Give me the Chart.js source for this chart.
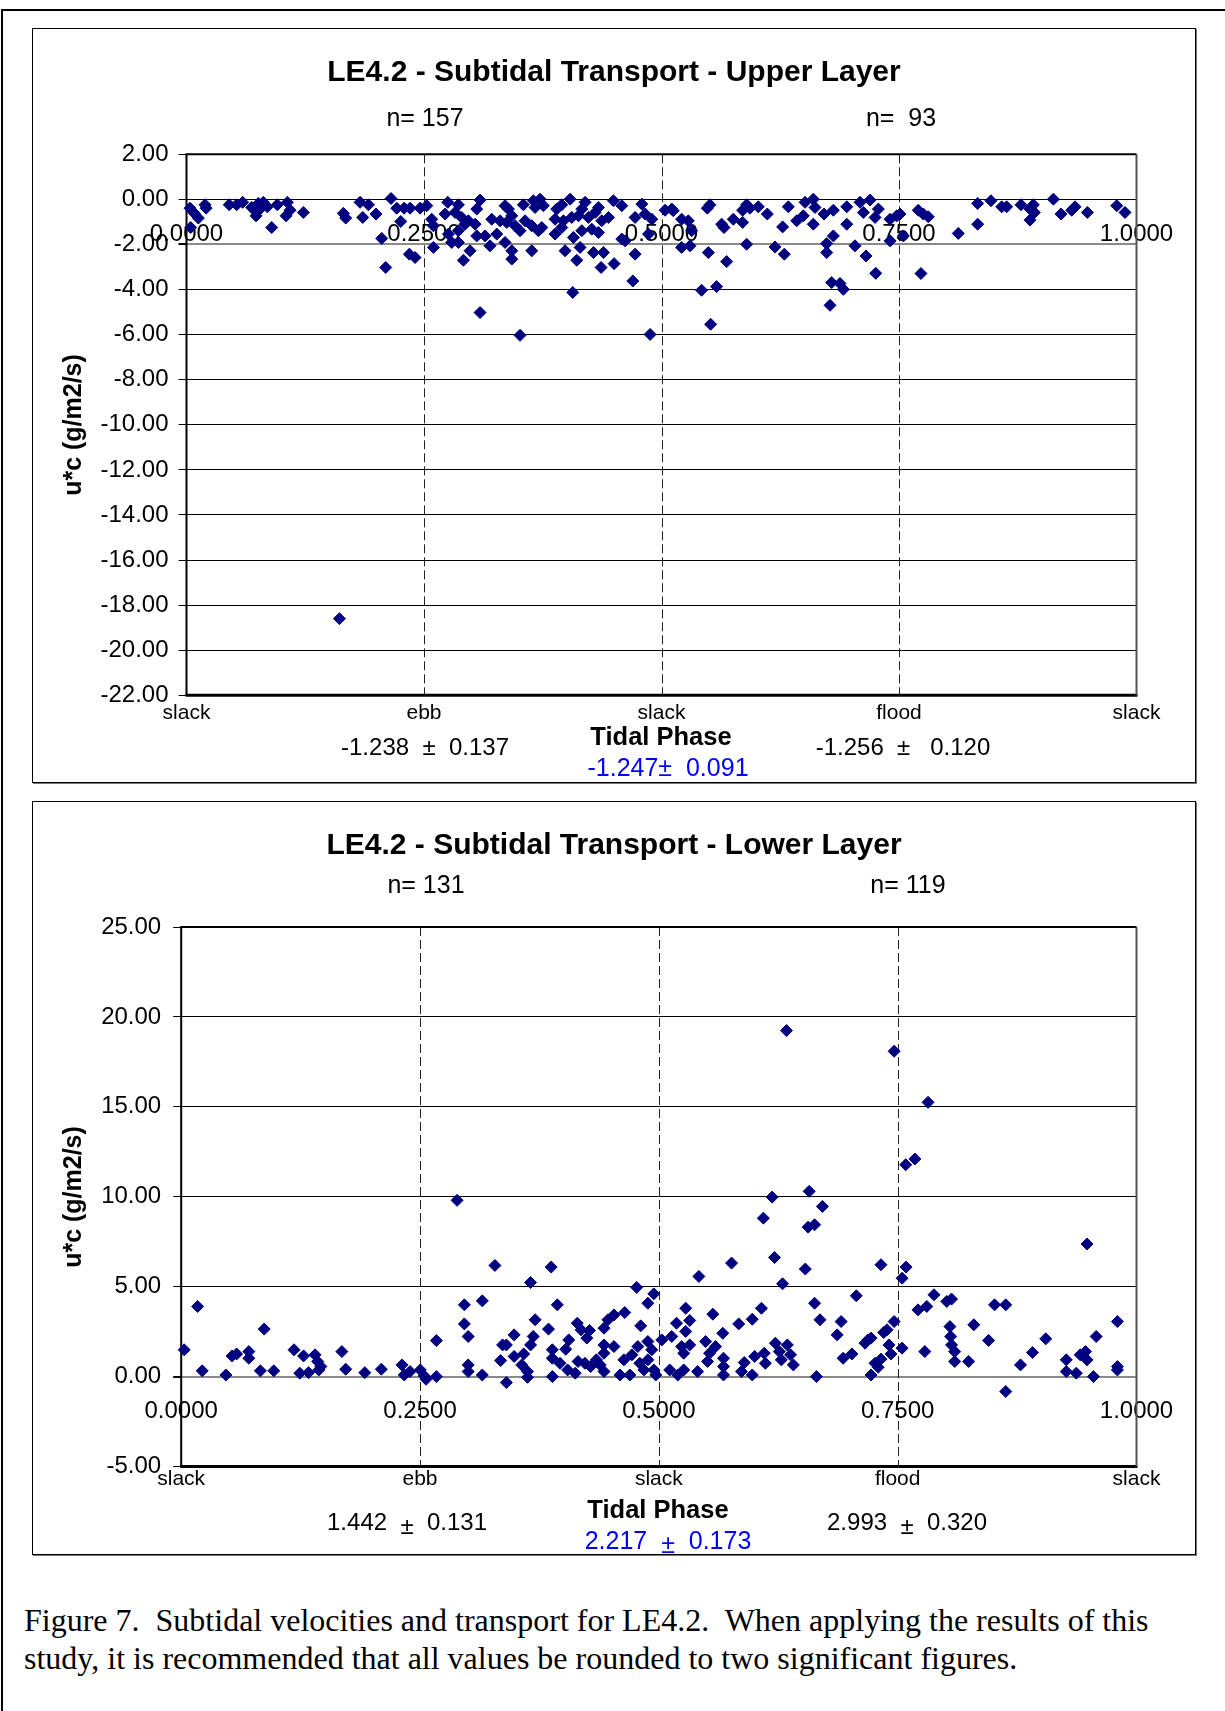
<!DOCTYPE html>
<html>
<head>
<meta charset="utf-8">
<script src="https://cdn.jsdelivr.net/npm/chart.js@4.4.1/dist/chart.umd.min.js"></script>
<style>
  html, body { margin: 0; padding: 0; background: #fff; }
  body { width: 1225px; height: 1711px; position: relative; overflow: hidden; }
  #frame { position: absolute; left: 1px; top: 9px; width: 1300px; height: 1800px;
           border-top: 2px solid #000; border-left: 2px solid #000; }
  .box { position: absolute; left: 32px; width: 1162px; border: 1px solid #000;
         box-shadow: 1px 1px 0 #777; background: #fff; }
  #boxU { top: 28px; height: 753px; }
  #boxL { top: 801px; height: 752px; }
  .box canvas { display: block; }
  #caption { position: absolute; left: 24px; top: 1601px; margin: 0;
             font-family: "Liberation Serif", "Times New Roman", serif;
             font-size: 32px; line-height: 38px; white-space: pre; color: #000; }
</style>
</head>
<body>
<div id="frame"></div>
<div class="box" id="boxU"><canvas id="upper" width="1162" height="753"></canvas></div>
<div class="box" id="boxL"><canvas id="lower" width="1162" height="752"></canvas></div>
<p id="caption">Figure 7.  Subtidal velocities and transport for LE4.2.  When applying the results of this
study, it is recommended that all values be rounded to two significant figures.</p>

<script>
// ---- tidal phase axis ----
const phaseTicks   = [0, 0.25, 0.5, 0.75, 1];
const phaseNames   = ['slack', 'ebb', 'slack', 'flood', 'slack'];
const phaseNumbers = ['0.0000', '0.2500', '0.5000', '0.7500', '1.0000'];
const quarterLines = [0.25, 0.5, 0.75];
const yAxisTitle   = 'u*c (g/m2/s)';

// ---- upper layer: tidal phase vs. transport ----
const phaseUpper = [
  0.0037,0.0083,0.0125,0.0044,0.0195,0.0206,0.045,0.0528,0.0591,0.0686,
  0.0732,0.0774,0.0809,0.0851,0.0756,0.0897,0.0956,0.1062,0.1048,0.109,
  0.123,0.161,0.1651,0.1676,0.1827,0.1855,0.1915,0.1995,0.2055,0.2097,
  0.2153,0.2213,0.2255,0.229,0.2353,0.2346,0.2406,0.2459,
  0.2529,0.275,0.2862,0.309,0.3055,0.3353,0.3389,0.3546,0.3652,0.3722,
  0.3757,0.3669,0.3897,0.4038,0.395,0.4196,0.4161,0.4336,0.4494,0.4582,
  0.4793,0.5038,0.5108,
  0.2581,0.2722,0.2827,0.2897,0.2967,0.3038,0.3213,0.3301,0.3424,0.3371,
  0.3564,0.3634,0.374,0.388,0.3968,0.4055,0.4126,0.4231,0.4301,0.4371,
  0.4442,0.4722,0.4828,0.4898,
  0.2599,0.2757,0.2862,0.2932,0.3055,0.3143,0.3266,0.3459,0.3511,0.3704,
  0.388,0.395,0.4073,0.4161,0.4266,0.4336,0.4582,0.4863,
  0.2599,0.2792,0.2862,0.3195,0.3353,0.3424,0.3634,0.3985,0.4143,0.4284,
  0.4389,0.4617,0.4722,
  0.2915,0.2985,0.3424,0.4108,0.4364,0.4501,0.4698,0.4066,0.309,0.3511,0.488,
  0.5124,0.5482,0.551,0.5756,0.5854,0.5896,0.5931,0.6019,0.6114,0.6335,
  0.6423,0.6493,0.6511,0.6598,0.6616,0.6711,0.6809,0.695,0.709,0.7195,
  0.7125,0.7283,0.7248,0.7406,0.7476,0.7511,
  0.5212,0.5282,0.5317,0.53,0.5212,0.5633,0.5658,0.5854,0.5896,0.6275,
  0.6598,0.6739,0.6809,0.695,0.7406,0.7546,0.5493,0.5686,0.6195,0.6293,
  0.6739,0.7037,0.7153,0.7255,0.5422,0.558,0.6791,0.6879,0.6914,0.6774,
  0.5517,
  0.7703,0.7756,0.7808,0.8124,0.8328,0.8328,0.8468,0.8581,0.8633,0.8784,
  0.8879,0.8914,0.8925,0.8879,0.9125,0.9205,0.9318,0.9353,0.9483,0.9792,
  0.9879,0.7731
];
const ucUpper = [
  -0.39,-0.62,-0.83,-1.25,-0.24,-0.39,-0.24,-0.24,-0.13,-0.36,
  -0.73,-0.43,-0.13,-0.33,-0.18,-1.25,-0.24,-0.13,-0.73,-0.48,
  -0.58,-18.6,-0.62,-0.83,-0.13,-0.8,-0.24,-0.65,-1.73,-3.02,
  0.04,-0.39,-0.98,-0.39,-0.39,-2.43,-2.58,-0.39,
  -0.28,-0.13,-0.24,-0.03,-0.43,-0.28,-0.43,-0.24,-0.06,0.01,
  -0.28,-0.36,-0.43,0.01,-0.24,-0.13,-0.43,-0.36,-0.06,-0.28,
  -0.21,-0.48,-0.43,
  -0.88,-0.65,-0.58,-0.8,-0.95,-1.1,-0.88,-0.95,-0.73,-1.02,
  -0.95,-1.17,-1.25,-0.88,-0.95,-0.8,-0.73,-0.8,-0.58,-0.95,
  -0.8,-0.8,-0.65,-0.88,
  -1.17,-1.54,-1.39,-1.1,-1.62,-1.62,-1.54,-1.17,-1.39,-1.39,
  -1.54,-1.25,-1.69,-1.39,-1.32,-1.47,-1.76,-1.54,
  -2.13,-1.91,-1.91,-2.06,-1.91,-2.28,-2.28,-2.28,-2.13,-2.36,
  -2.36,-1.84,-2.43,
  -2.7,-2.28,-2.65,-2.7,-3.02,-2.85,-3.62,-4.13,-5.02,-6.03,-5.99,
  -0.5,-0.39,-0.24,-0.88,-0.48,-0.24,-0.39,-0.33,-0.65,-0.33,
  -0.95,-0.73,-0.13,0.01,-0.36,-0.65,-0.48,-0.33,-0.13,-0.03,
  -0.58,-0.43,-0.8,-0.88,-0.73,-0.65,
  -0.88,-0.95,-1.39,-2.06,-2.13,-1.1,-1.25,-1.02,-1.99,-1.22,
  -1.1,-1.96,-1.62,-1.1,-1.84,-1.62,-2.36,-2.76,-2.11,-2.43,
  -2.36,-2.06,-2.51,-3.28,-4.03,-3.87,-3.69,-3.73,-3.99,-4.7,
  -5.54,
  -0.48,-0.65,-0.77,-1.51,-0.18,-1.1,-0.06,-0.33,-0.33,-0.24,
  -0.43,-0.24,-0.58,-0.92,0.01,-0.65,-0.48,-0.33,-0.58,-0.28,
  -0.58,-3.29
];

// ---- lower layer: tidal phase vs. transport ----
const phaseLower = [
  0.0031,0.0172,0.022,0.0468,0.0532,0.058,0.0708,0.0708,0.0829,0.0869,
  0.0969,0.1181,0.1241,0.1281,0.1333,0.1401,0.1429,0.1462,0.1441,0.1682,
  0.1722,0.1922,0.2095,0.2311,0.2335,0.2395,0.2503,0.2543,0.2563,0.2671,
  0.2671,0.2888,0.2964,0.2964,0.3004,0.3004,0.3004,0.3152,0.3152,0.3284,
  0.3344,0.3364,0.3404,0.3404,0.3485,0.3485,0.3565,0.3585,0.3625,0.3625,
  0.3657,0.3657,0.3685,0.3705,0.3845,0.3873,0.3885,0.3885,0.3885,0.3937,
  0.3965,0.4025,0.4057,0.4045,0.4125,0.4146,0.4186,0.4246,0.4274,0.4154,
  0.4226,0.4286,0.4346,0.4386,0.4426,
  0.4426,0.4467,0.453,0.4643,0.4768,0.481,0.4885,0.4947,0.4426,0.453,
  0.4426,0.4593,0.4634,0.4697,0.4718,0.478,0.4801,0.4843,0.4885,0.4926,
  0.4947,0.4968,0.4885,0.5031,0.5135,0.5114,0.5185,0.5198,0.5239,0.526,
  0.526,0.5281,0.5323,0.5281,0.5323,0.5406,0.5419,0.549,0.551,0.5531,
  0.5565,0.5594,0.5669,0.5677,0.5677,0.5677,0.5761,0.5836,0.5865,0.5894,
  0.5978,0.5978,0.6003,0.6074,0.6094,0.6103,0.6115,0.6186,0.6211,0.622,
  0.6261,0.6295,0.6282,0.6345,0.6378,0.6408,0.6533,0.6562,0.6574,0.663,
  0.6712,0.663,0.6649,0.6687,0.6866,0.6908,0.6929,0.7021,0.7067,0.7158,
  0.7188,0.7221,0.7221,0.7263,0.7296,0.7325,0.7325,0.7354,0.7388,0.7409,
  0.743,0.7463,0.7546,0.7546,0.7588,0.7713,0.7784,0.7805,0.788,0.8014,
  0.8064,0.8047,0.8055,0.8064,0.8097,0.8097,0.8243,0.8297,0.8452,0.8514,
  0.8631,0.8631,0.8786,0.8911,0.905,0.9265,0.9265,0.937,0.9411,0.9466,
  0.9482,0.9482,0.9549,0.9578,0.98,0.98,0.98,
  0.6336,0.7463,0.7818,0.7584,0.768
];
const ucLower = [
  1.49,3.9,0.32,0.09,1.15,1.26,1.39,1.02,0.32,2.64,
  0.32,1.49,0.19,1.15,0.22,1.21,0.84,0.56,0.37,1.39,
  0.41,0.22,0.41,0.65,0.09,0.28,0.37,0.04,-0.15,0.0,
  2.0,9.8,3.99,2.93,2.23,0.65,0.28,4.21,0.09,6.18,
  0.89,1.76,1.76,-0.33,2.32,1.12,0.65,1.26,0.28,-0.04,
  5.23,1.76,2.23,3.16,2.64,6.09,1.49,0.0,1.02,3.99,
  0.74,1.52,2.04,0.37,0.19,2.97,2.6,2.14,2.56,0.84,
  0.74,0.56,0.93,0.65,1.3,
  2.69,3.16,3.43,3.56,4.96,2.82,4.08,4.6,1.76,1.67,
  0.28,0.09,0.93,0.09,1.21,1.67,0.74,0.37,1.95,1.49,
  0.37,0.09,0.93,2.04,2.23,0.37,2.97,0.09,1.67,0.37,
  1.3,3.8,3.12,2.51,1.76,0.28,5.57,1.95,0.84,1.3,
  3.47,1.67,2.41,1.02,0.56,0.09,6.31,2.93,0.28,0.78,
  3.19,0.09,1.12,3.8,8.81,1.3,0.74,9.98,6.62,1.86,
  1.39,5.16,0.93,1.76,1.21,0.65,5.98,8.31,10.3,8.44,
  9.46,4.08,0.0,3.16,2.32,3.06,1.02,1.26,4.49,1.86,
  2.04,2.14,0.09,0.74,0.52,6.22,0.97,2.45,2.6,1.76,
  1.26,3.06,5.47,1.58,6.09,3.71,1.39,3.9,4.55,4.18,
  4.31,2.78,2.23,1.76,1.39,0.84,0.84,2.88,2.01,3.99,
  3.99,-0.83,0.65,1.34,2.1,0.93,0.28,0.19,1.21,1.39,
  0.93,7.37,0.0,2.23,3.06,0.56,0.37,
  19.24,18.09,15.25,11.78,12.1
];

const FONT = '"Liberation Sans", Arial, Helvetica, sans-serif';
const NAVY = '#000080';

// Draws the dashed quarter-phase markers, numeric phase labels,
// plot frame, panel title and the annotation texts around each panel.
function makeDecor(spec) {
  return {
    id: 'decor',
    beforeDatasetsDraw(chart) {
      const { ctx, chartArea: a, scales: { x, y } } = chart;
      ctx.save();
      ctx.strokeStyle = '#222';
      ctx.lineWidth = 1;
      ctx.setLineDash([9, 4]);
      quarterLines.forEach(v => {
        const px = Math.round(x.getPixelForValue(v)) + 0.5;
        ctx.beginPath(); ctx.moveTo(px, a.top); ctx.lineTo(px, a.bottom); ctx.stroke();
      });
      ctx.setLineDash([]);

      ctx.fillStyle = '#000';
      ctx.font = '24px ' + FONT;
      ctx.textAlign = 'center';
      ctx.textBaseline = 'middle';
      const yl = y.getPixelForValue(0) + spec.phaseLabelDrop;
      phaseTicks.forEach((v, i) => ctx.fillText(phaseNumbers[i], x.getPixelForValue(v), yl));

      // plot frame
      ctx.strokeStyle = '#000';
      ctx.lineWidth = 2;
      ctx.beginPath();
      ctx.moveTo(a.left, a.bottom); ctx.lineTo(a.left, a.top); ctx.lineTo(a.right, a.top);
      ctx.stroke();
      ctx.lineWidth = 3;
      ctx.beginPath(); ctx.moveTo(a.left - 1, a.bottom); ctx.lineTo(a.right + 1, a.bottom); ctx.stroke();
      ctx.strokeStyle = '#555';
      ctx.lineWidth = 2;
      ctx.beginPath(); ctx.moveTo(a.right, a.top); ctx.lineTo(a.right, a.bottom); ctx.stroke();
      ctx.restore();
    },
    afterDraw(chart) {
      const ctx = chart.ctx;
      ctx.save();
      ctx.textBaseline = 'middle';
      ctx.fillStyle = '#000';

      // panel title, centred on the whole panel
      ctx.textAlign = 'center';
      ctx.font = 'bold 30px ' + FONT;
      ctx.fillText(spec.title, chart.width / 2, spec.titleY);

      spec.texts.forEach(t => {
        ctx.font = t.font;
        ctx.fillStyle = t.color || '#000';
        if (t.pmDrop) {
          // the ± sign sits a little below the numbers
          const [l, r] = t.text.split('\u00b1');
          const wl = ctx.measureText(l).width, wp = ctx.measureText('\u00b1').width, wr = ctx.measureText(r).width;
          let x0 = t.x - (wl + wp + wr) / 2;
          ctx.textAlign = 'left';
          ctx.fillText(l, x0, t.y);
          ctx.fillText('\u00b1', x0 + wl, t.y + t.pmDrop);
          ctx.fillText(r, x0 + wl + wp, t.y);
        } else {
          ctx.textAlign = 'center';
          ctx.fillText(t.text, t.x, t.y);
        }
      });

      ctx.fillStyle = '#000';
      ctx.textAlign = 'center';
      ctx.translate(spec.yTitle.x, spec.yTitle.y);
      ctx.rotate(-Math.PI / 2);
      ctx.font = 'bold 25px ' + FONT;
      ctx.fillText(yAxisTitle, 0, 0);
      ctx.restore();
    }
  };
}

function makePanel(id, xs, ys, spec) {
  return new Chart(document.getElementById(id), {
    type: 'scatter',
    data: {
      datasets: [{
        data: xs.map((v, i) => ({ x: v, y: ys[i] })),
        pointStyle: 'rectRot',
        pointRadius: 6,
        pointBorderWidth: 1,
        backgroundColor: NAVY,
        borderColor: NAVY,
        clip: false
      }]
    },
    options: {
      responsive: false,
      animation: false,
      devicePixelRatio: 1,
      layout: { padding: { left: 0, right: spec.padRight, top: spec.padTop, bottom: 0 } },
      plugins: {
        legend: { display: false },
        tooltip: { enabled: false },
        title: { display: false }
      },
      scales: {
        x: {
          type: 'linear', min: 0, max: 1,
          afterBuildTicks: s => { s.ticks = phaseTicks.map(v => ({ value: v })); },
          afterFit: s => { s.height = spec.xHeight; },
          ticks: {
            callback: (v, i) => phaseNames[i],
            font: { family: FONT, size: 21 },
            color: '#000', padding: spec.xPad, maxRotation: 0, autoSkip: false
          },
          grid: { display: false, drawTicks: false },
          border: { display: false }
        },
        y: {
          type: 'linear', min: spec.ymin, max: spec.ymax,
          afterBuildTicks: s => { s.ticks = spec.yTicks.map(v => ({ value: v })); },
          afterFit: s => { s.width = spec.yWidth; },
          ticks: {
            callback: v => v.toFixed(2),
            font: { family: FONT, size: 24 },
            color: '#000', padding: spec.yPad, autoSkip: false
          },
          grid: {
            color: c => (c.tick && c.tick.value === spec.axisLine) ? '#8a8a8a' : '#000',
            lineWidth: c => (c.tick && c.tick.value === spec.axisLine) ? 2 : 1,
            tickColor: '#000', tickLength: 8, drawTicks: true
          },
          border: { display: false }
        }
      }
    },
    plugins: [makeDecor(spec)]
  });
}

const upperTicks = [2, 0, -2, -4, -6, -8, -10, -12, -14, -16, -18, -20, -22];
const lowerTicks = [25, 20, 15, 10, 5, 0, -5];

makePanel('upper', phaseUpper, ucUpper, {
  title: 'LE4.2 - Subtidal Transport - Upper Layer', titleY: 44,
  ymin: -22, ymax: 2, yTicks: upperTicks, axisLine: -2,
  padTop: 125.3, yWidth: 153.5, xHeight: 86.7, padRight: 58.5, xPad: 5, yPad: 10,
  phaseLabelDrop: 34.8,
  yTitle: { x: 41, y: 396 },
  texts: [
    { text: 'n= 157', x: 392, y: 90, font: '25px ' + FONT },
    { text: 'n=  93', x: 868, y: 90, font: '25px ' + FONT },
    { text: '-1.238  \u00b1  0.137', x: 392, y: 719, font: '24px ' + FONT },
    { text: 'Tidal Phase', x: 628, y: 709, font: 'bold 25.5px ' + FONT },
    { text: '-1.256  \u00b1   0.120', x: 870, y: 719, font: '24px ' + FONT },
    { text: '-1.247\u00b1  0.091', x: 635, y: 740, font: '25px ' + FONT, color: '#0000ff' }
  ]
});

makePanel('lower', phaseLower, ucLower, {
  title: 'LE4.2 - Subtidal Transport - Lower Layer', titleY: 43.5,
  ymin: -5, ymax: 25, yTicks: lowerTicks, axisLine: 0,
  padTop: 125, yWidth: 148.2, xHeight: 87.5, padRight: 58.5, xPad: 0, yPad: 12,
  phaseLabelDrop: 34.8,
  yTitle: { x: 41, y: 395 },
  texts: [
    { text: 'n= 131', x: 393, y: 84, font: '25px ' + FONT },
    { text: 'n= 119', x: 875, y: 84, font: '25px ' + FONT },
    { text: '1.442  \u00b1  0.131', x: 374, y: 721, font: '24px ' + FONT, pmDrop: 4 },
    { text: 'Tidal Phase', x: 625, y: 709, font: 'bold 25.5px ' + FONT },
    { text: '2.993  \u00b1  0.320', x: 874, y: 721, font: '24px ' + FONT, pmDrop: 4 },
    { text: '2.217  \u00b1  0.173', x: 635, y: 740, font: '25px ' + FONT, color: '#0000ff', pmDrop: 4 }
  ]
});
</script>
</body>
</html>
